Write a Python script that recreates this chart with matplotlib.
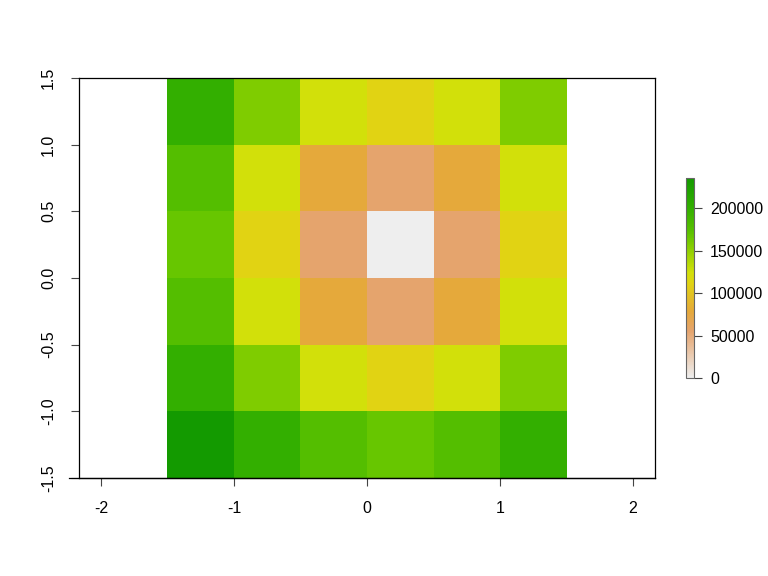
import numpy as np
import matplotlib
matplotlib.use("Agg")
import matplotlib.pyplot as plt
from matplotlib.colors import LinearSegmentedColormap

# raster cell values (rows from top: y 1.25 .. -1.25, columns x -1.25 .. 1.25)
x_edges = [-1.5, -1.0, -0.5, 0.0, 0.5, 1.0, 1.5]
y_edges = [1.5, 1.0, 0.5, 0.0, -0.5, -1.0, -1.5]
values = [
    [200500, 157300, 124300, 111200, 124300, 157300],
    [175800, 124300, 78600, 55600, 78600, 124300],
    [166800, 111200, 55600, 0, 55600, 111200],
    [175800, 124300, 78600, 55600, 78600, 124300],
    [200500, 157300, 124300, 111200, 124300, 157300],
    [235900, 200500, 175800, 166800, 175800, 200500],
]
x_ticks = [-2, -1, 0, 1, 2]
y_ticks = [-1.5, -1.0, -0.5, 0.0, 0.5, 1.0, 1.5]
bar_ticks = [0, 50000, 100000, 150000, 200000]

# colour ramp as seen in the picture (reversed terrain colours)
ramp_vals = [0, 55600, 78600, 111200, 124300, 157300, 166800, 175800, 200500, 235900]
ramp_cols = ["#eeeeee", "#e5a46d", "#e5a93a", "#e1d313", "#d2e00a",
             "#80cc00", "#68c600", "#55be00", "#33af00", "#139a00"]

z = np.array(values, dtype=float)
vmax = z.max()
cmap = LinearSegmentedColormap.from_list(
    "terrain_r", list(zip(np.array(ramp_vals) / vmax, ramp_cols)), N=255)

plt.rcParams["font.family"] = ["Liberation Sans", "DejaVu Sans"]
fs = 11.5

fig = plt.figure(figsize=(7.68, 5.76), dpi=100)
ax = fig.add_axes([79/768, 1 - 478/576, 576/768, 400/576])
mesh = ax.pcolormesh(x_edges, y_edges, z, cmap=cmap, vmin=0, vmax=vmax)
ax.set_xlim(-2.165, 2.165)
ax.set_ylim(-1.5, 1.5)
ax.set_xticks(x_ticks)
ax.set_xticklabels([str(t) for t in x_ticks])
ax.set_yticks(y_ticks)
ax.set_yticklabels([f"{t:.1f}" for t in y_ticks], rotation=90, va="center")
ax.tick_params(axis="both", length=5.5, width=0.8, labelsize=fs, color="#444444")
ax.tick_params(axis="x", pad=11)
ax.tick_params(axis="y", pad=11)
for sp in ax.spines.values():
    sp.set_linewidth(0.9)
ax.plot([-2.24, 2.165], [-1.5, -1.5], color="black", lw=0.9, clip_on=False)

cax = fig.add_axes([686/768, 1 - 378/576, 8/768, 200/576])
cb = fig.colorbar(mesh, cax=cax, ticks=bar_ticks)
cb.ax.set_yticklabels([str(t) for t in bar_ticks])
cb.ax.tick_params(length=5.5, width=0.8, labelsize=fs, color="#444444", pad=6)
cb.outline.set_edgecolor("#666666")
cb.outline.set_linewidth(0.8)

fig.savefig("out.png", dpi=100)
